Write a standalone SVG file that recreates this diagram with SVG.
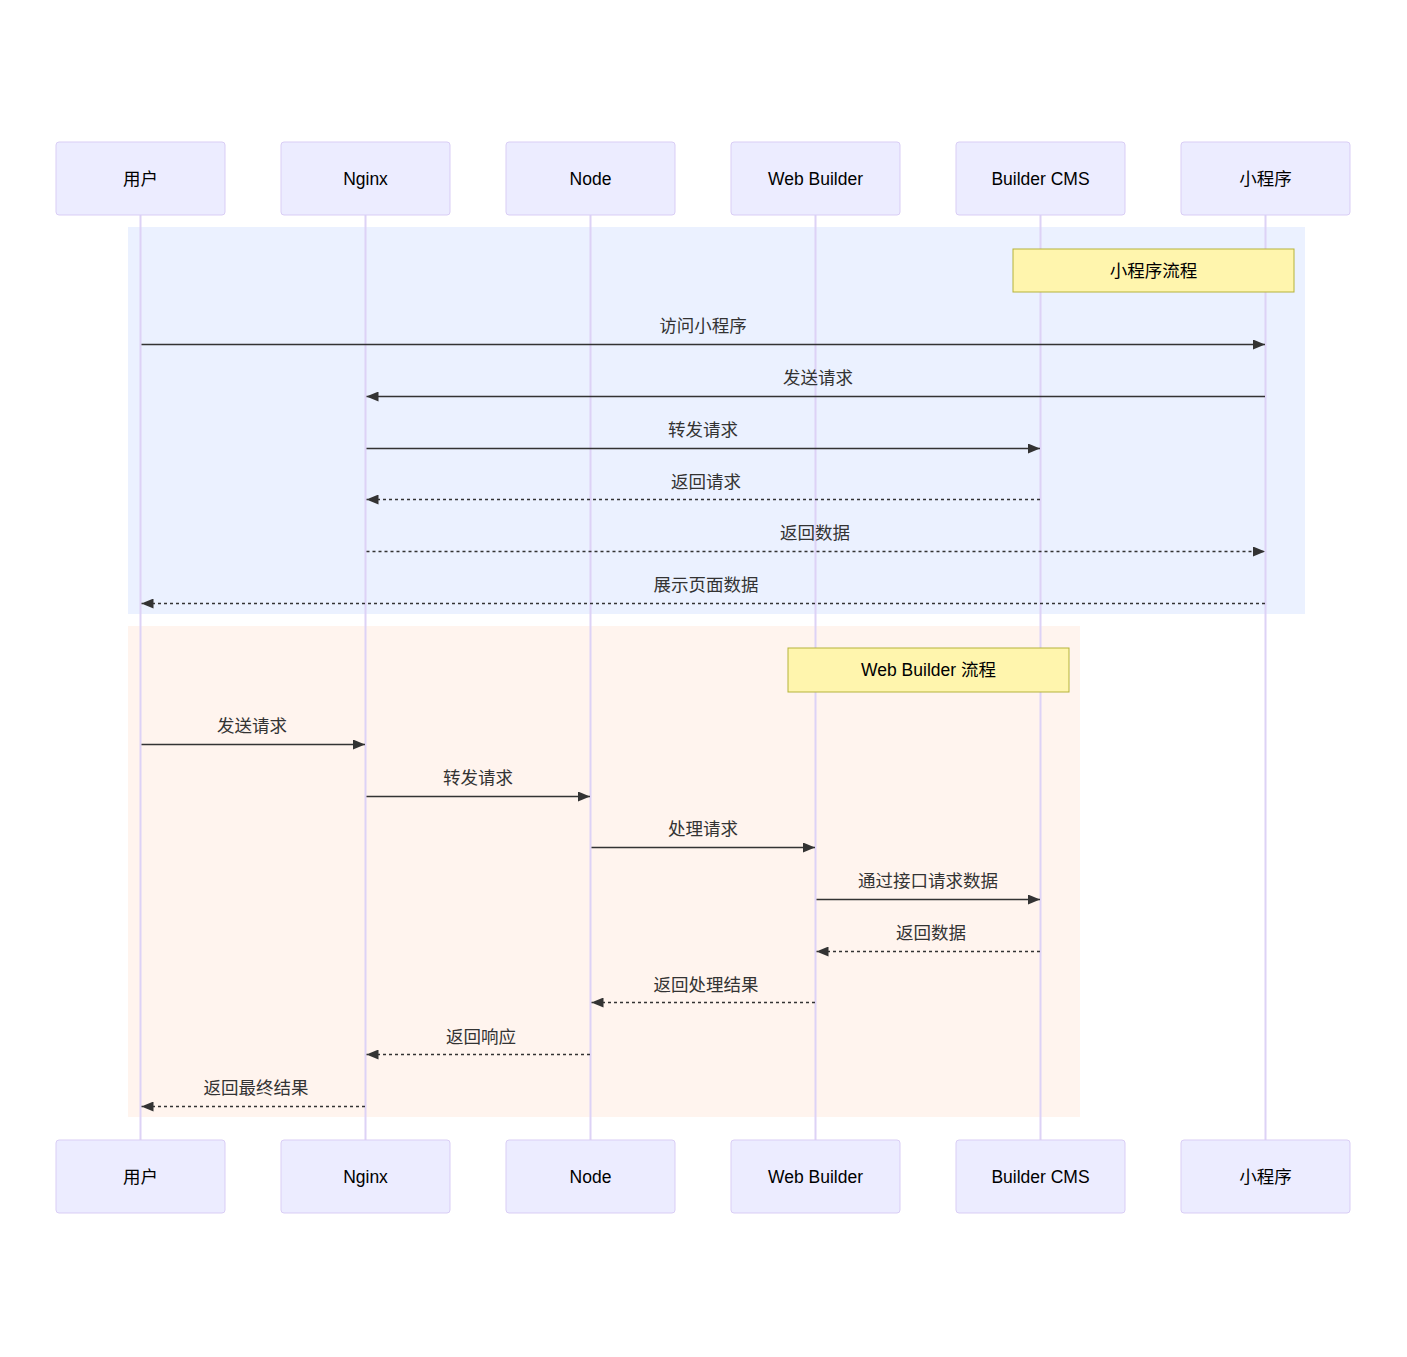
<svg xmlns="http://www.w3.org/2000/svg" width="1407" height="1357" viewBox="0 0 1407 1357">
  <style>
    .actor { fill: #ececff; stroke: #d9cdf5; stroke-width: 1; }
    .actor-text { font-family: "Liberation Sans", "Noto Sans CJK SC", sans-serif; font-size: 17.5px; fill: #000; text-anchor: middle; dominant-baseline: central; }
    .lifeline { stroke: #ddd2f6; stroke-width: 2; }
    .msg { stroke: #333; stroke-width: 1.5; fill: none; }
    .dashed { stroke-dasharray: 3,3; }
    .msg-text { font-family: "Liberation Sans", "Noto Sans CJK SC", sans-serif; font-size: 17.5px; fill: #333; text-anchor: middle; }
    .note { fill: #fff5ad; stroke: #b5b33a; stroke-width: 1; }
    .note-text { font-family: "Liberation Sans", "Noto Sans CJK SC", sans-serif; font-size: 17.5px; fill: #000; text-anchor: middle; dominant-baseline: central; }
  </style>
  <defs>
    <marker id="arrowhead" viewBox="0 0 12 10" refX="12" refY="5" markerWidth="12" markerHeight="10" markerUnits="userSpaceOnUse" orient="auto">
      <path d="M0,0 L12,5 L0,10 z" fill="#333"/>
    </marker>
  </defs>

  <rect width="1407" height="1357" fill="#fff"/>

  <!-- section backgrounds -->
  <rect x="128" y="227" width="1177" height="387" fill="#ebf1ff"/>
  <rect x="128" y="626" width="952" height="491" fill="#fff4ee"/>

  <!-- lifelines -->
  <g id="lifelines">
    <line class="lifeline" x1="140.5" y1="215" x2="140.5" y2="1140"/>
    <line class="lifeline" x1="365.5" y1="215" x2="365.5" y2="1140"/>
    <line class="lifeline" x1="590.5" y1="215" x2="590.5" y2="1140"/>
    <line class="lifeline" x1="815.5" y1="215" x2="815.5" y2="1140"/>
    <line class="lifeline" x1="1040.5" y1="215" x2="1040.5" y2="1140"/>
    <line class="lifeline" x1="1265.5" y1="215" x2="1265.5" y2="1140"/>
  </g>

  <!-- participants (top) -->
  <g id="user-top"><rect class="actor" x="56" y="142" width="169" height="73" rx="3"/><text class="actor-text" x="140.5" y="179">用户</text></g>
  <g id="nginx-top"><rect class="actor" x="281" y="142" width="169" height="73" rx="3"/><text class="actor-text" x="365.5" y="179">Nginx</text></g>
  <g id="node-top"><rect class="actor" x="506" y="142" width="169" height="73" rx="3"/><text class="actor-text" x="590.5" y="179">Node</text></g>
  <g id="webbuilder-top"><rect class="actor" x="731" y="142" width="169" height="73" rx="3"/><text class="actor-text" x="815.5" y="179">Web Builder</text></g>
  <g id="cms-top"><rect class="actor" x="956" y="142" width="169" height="73" rx="3"/><text class="actor-text" x="1040.5" y="179">Builder CMS</text></g>
  <g id="miniapp-top"><rect class="actor" x="1181" y="142" width="169" height="73" rx="3"/><text class="actor-text" x="1265.5" y="179">小程序</text></g>

  <!-- participants (bottom) -->
  <g id="user-bottom"><rect class="actor" x="56" y="1140" width="169" height="73" rx="3"/><text class="actor-text" x="140.5" y="1177">用户</text></g>
  <g id="nginx-bottom"><rect class="actor" x="281" y="1140" width="169" height="73" rx="3"/><text class="actor-text" x="365.5" y="1177">Nginx</text></g>
  <g id="node-bottom"><rect class="actor" x="506" y="1140" width="169" height="73" rx="3"/><text class="actor-text" x="590.5" y="1177">Node</text></g>
  <g id="webbuilder-bottom"><rect class="actor" x="731" y="1140" width="169" height="73" rx="3"/><text class="actor-text" x="815.5" y="1177">Web Builder</text></g>
  <g id="cms-bottom"><rect class="actor" x="956" y="1140" width="169" height="73" rx="3"/><text class="actor-text" x="1040.5" y="1177">Builder CMS</text></g>
  <g id="miniapp-bottom"><rect class="actor" x="1181" y="1140" width="169" height="73" rx="3"/><text class="actor-text" x="1265.5" y="1177">小程序</text></g>

  <!-- notes -->
  <g id="note-miniapp"><rect class="note" x="1013" y="249" width="281" height="43"/><text class="note-text" x="1153.5" y="270.5">小程序流程</text></g>
  <g id="note-webbuilder"><rect class="note" x="788" y="648" width="281" height="44"/><text class="note-text" x="928.5" y="670">Web Builder 流程</text></g>

  <!-- messages -->
  <g id="connectors">
    <line class="msg" x1="141.5" y1="344.5" x2="1265" y2="344.5" marker-end="url(#arrowhead)"/>
    <line class="msg" x1="1265" y1="396.5" x2="366.5" y2="396.5" marker-end="url(#arrowhead)"/>
    <line class="msg" x1="366.5" y1="448.5" x2="1040" y2="448.5" marker-end="url(#arrowhead)"/>
    <line class="msg dashed" x1="1040" y1="499.5" x2="366.5" y2="499.5" marker-end="url(#arrowhead)"/>
    <line class="msg dashed" x1="366.5" y1="551.5" x2="1265" y2="551.5" marker-end="url(#arrowhead)"/>
    <line class="msg dashed" x1="1265" y1="603.5" x2="141.5" y2="603.5" marker-end="url(#arrowhead)"/>

    <line class="msg" x1="141.5" y1="744.5" x2="365" y2="744.5" marker-end="url(#arrowhead)"/>
    <line class="msg" x1="366.5" y1="796.5" x2="590" y2="796.5" marker-end="url(#arrowhead)"/>
    <line class="msg" x1="591.5" y1="847.5" x2="815" y2="847.5" marker-end="url(#arrowhead)"/>
    <line class="msg" x1="816.5" y1="899.5" x2="1040" y2="899.5" marker-end="url(#arrowhead)"/>
    <line class="msg dashed" x1="1040" y1="951.5" x2="816.5" y2="951.5" marker-end="url(#arrowhead)"/>
    <line class="msg dashed" x1="815" y1="1002.5" x2="591.5" y2="1002.5" marker-end="url(#arrowhead)"/>
    <line class="msg dashed" x1="590" y1="1054.5" x2="366.5" y2="1054.5" marker-end="url(#arrowhead)"/>
    <line class="msg dashed" x1="365" y1="1106.5" x2="141.5" y2="1106.5" marker-end="url(#arrowhead)"/>
  </g>

  <!-- message labels -->
  <g id="labels">
    <text class="msg-text" x="703" y="332">访问小程序</text>
    <text class="msg-text" x="818" y="384">发送请求</text>
    <text class="msg-text" x="703" y="436">转发请求</text>
    <text class="msg-text" x="706" y="488">返回请求</text>
    <text class="msg-text" x="815" y="539">返回数据</text>
    <text class="msg-text" x="706" y="591">展示页面数据</text>
    <text class="msg-text" x="252" y="732">发送请求</text>
    <text class="msg-text" x="478" y="784">转发请求</text>
    <text class="msg-text" x="703" y="835">处理请求</text>
    <text class="msg-text" x="928" y="887">通过接口请求数据</text>
    <text class="msg-text" x="931" y="939">返回数据</text>
    <text class="msg-text" x="706" y="991">返回处理结果</text>
    <text class="msg-text" x="481" y="1043">返回响应</text>
    <text class="msg-text" x="256" y="1094">返回最终结果</text>
  </g>
</svg>
